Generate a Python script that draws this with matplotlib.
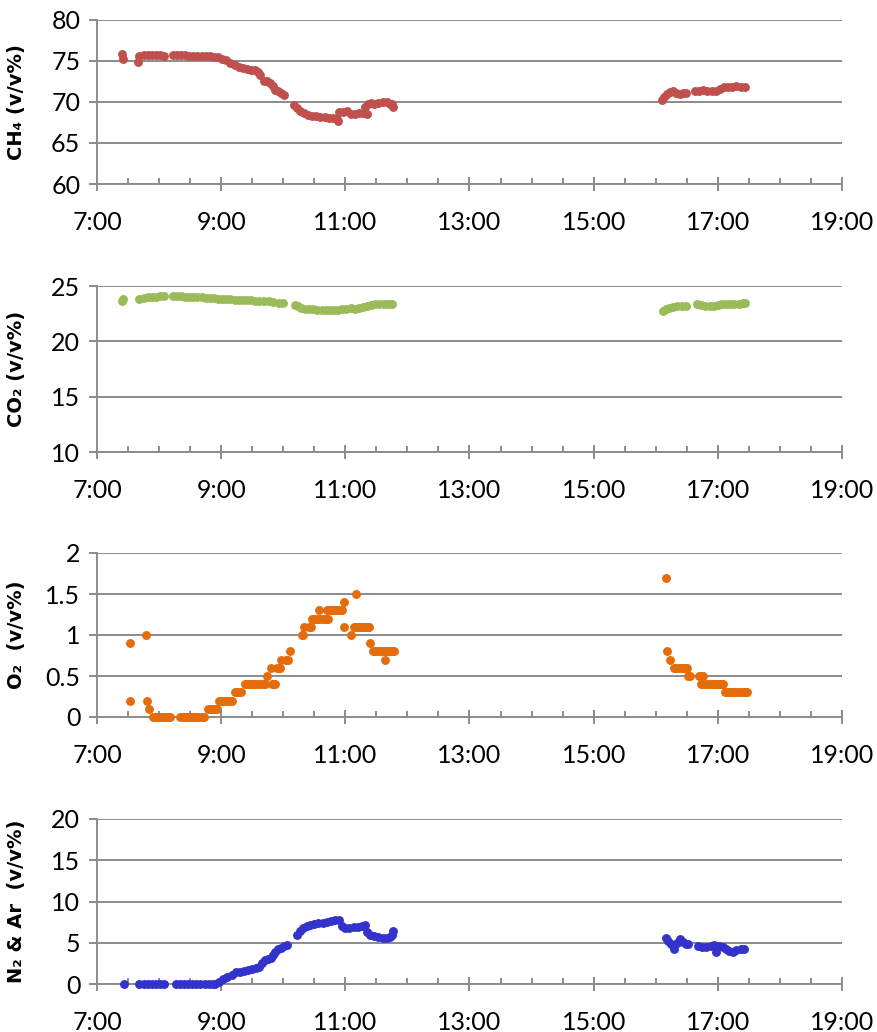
import matplotlib
matplotlib.use("Agg")
import matplotlib.pyplot as plt
from matplotlib.ticker import MultipleLocator
import numpy as np

plt.rcParams['font.family'] = ['Lato', 'DejaVu Sans']

# ---- data: time in minutes after 7:00, values in v/v% ----
ch4_t = [24, 25, 40, 41, 45, 49, 53, 57, 61, 65,
         73, 77, 81, 85, 89, 93, 97, 101, 105, 109, 113, 117, 121, 125, 129, 133, 137, 141,
         145, 149, 153, 156, 158,
         161, 164, 167, 170, 172, 175, 178, 181,
         190, 193, 196, 200, 204, 208, 212, 216, 220, 224, 228, 232, 233,
         234, 238, 242, 245, 249, 253, 257, 261,
         259, 262, 265, 268, 272, 276, 280, 283, 285, 286,
         546, 548, 551, 554, 557, 560, 563, 566, 569,
         578, 582, 586, 590, 594, 598, 602, 606, 610, 614, 618, 622, 626]
ch4_v = [75.8, 75.3, 74.9, 75.6, 75.7, 75.7, 75.7, 75.7, 75.7, 75.65,
         75.7, 75.7, 75.7, 75.7, 75.65, 75.65, 75.6, 75.6, 75.6, 75.55, 75.5, 75.5, 75.3, 75.1, 74.8, 74.55, 74.3, 74.1,
         74.0, 73.95, 73.85, 73.6, 73.3,
         72.6, 72.5, 72.3, 72.0, 71.5, 71.3, 71.1, 70.9,
         69.6, 69.3, 68.9, 68.6, 68.4, 68.3, 68.25, 68.2, 68.2, 68.1, 68.0, 67.9, 67.7,
         68.8, 68.8, 68.9, 68.5, 68.5, 68.6, 68.6, 68.5,
         69.4, 69.7, 69.9, 69.8, 69.9, 70.0, 70.0, 69.8, 69.7, 69.4,
         70.2, 70.6, 71.0, 71.2, 71.3, 71.1, 71.0, 71.1, 71.1,
         71.3, 71.4, 71.5, 71.4, 71.4, 71.4, 71.6, 71.8, 71.8, 71.85, 71.9, 71.85, 71.85]

co2_t = [24, 25, 41, 45, 49, 53, 57, 61, 65,
         73, 77, 81, 85, 89, 93, 97, 101, 105, 109, 113, 117, 121, 125, 129, 133, 137, 141,
         145, 149, 153, 157, 161, 166, 170, 176, 180,
         191, 194, 197, 201, 205, 209, 213, 217, 221, 225, 229, 233, 237, 241, 245, 249,
         253, 257, 261, 265, 269, 273, 277, 281, 285,
         547, 550, 553, 557, 561, 565, 569,
         580, 584, 588, 592, 596, 600, 604, 608, 612, 616, 620, 624, 626]
co2_v = [23.6, 23.8, 23.85, 23.95, 24.0, 24.05, 24.05, 24.1, 24.1,
         24.1, 24.1, 24.1, 24.05, 24.05, 24.0, 24.0, 24.0, 23.95, 23.95, 23.9, 23.85, 23.85, 23.8, 23.8, 23.75, 23.75, 23.7,
         23.7, 23.7, 23.65, 23.65, 23.6, 23.6, 23.55, 23.5, 23.5,
         23.3, 23.15, 23.0, 22.95, 22.9, 22.9, 22.85, 22.85, 22.85, 22.85, 22.8, 22.85, 22.9, 22.95, 23.0, 22.95,
         23.0, 23.1, 23.2, 23.3, 23.35, 23.4, 23.4, 23.4, 23.4,
         22.75, 22.9, 23.0, 23.1, 23.15, 23.2, 23.2,
         23.35, 23.3, 23.2, 23.15, 23.15, 23.25, 23.35, 23.35, 23.35, 23.4, 23.4, 23.45, 23.45]

o2_t = [32, 32, 47, 48, 50,
        54, 56, 58, 60, 62, 64, 66, 68, 70, 71,
        80, 82, 84, 86, 88, 90, 92, 94, 96, 98, 100, 102, 103,
        107, 109, 111, 113, 115, 116,
        118, 120, 122, 124, 126, 128, 130,
        133, 135, 137, 139,
        143, 145, 147, 149, 151, 153, 155, 157, 159, 161, 162,
        164, 168, 169, 171, 172, 174, 176, 177, 178, 183, 185, 187,
        198, 199, 200, 205, 207,
        208, 210, 212, 214, 216, 218, 220, 222, 223, 215,
        222, 224, 226, 228, 230, 232, 234, 236, 237, 239, 239, 245, 250,
        248, 250, 252, 254, 256, 258, 260, 262, 263, 264,
        267, 269, 271, 273, 275, 277, 279, 281, 283, 285, 287, 278,
        550, 551, 554,
        558, 560, 562, 564, 566, 568, 570, 571, 573,
        582, 584, 586,
        584, 586, 588, 590, 592, 594, 596, 598, 600, 602, 604, 605,
        607, 609, 611, 613, 615, 617, 619, 621, 623, 625, 627, 628]
o2_v = [0.9, 0.2, 1.0, 0.2, 0.1,
        0, 0, 0, 0, 0, 0, 0, 0, 0, 0,
        0, 0, 0, 0, 0, 0, 0, 0, 0, 0, 0, 0, 0,
        0.1, 0.1, 0.1, 0.1, 0.1, 0.1,
        0.2, 0.2, 0.2, 0.2, 0.2, 0.2, 0.2,
        0.3, 0.3, 0.3, 0.3,
        0.4, 0.4, 0.4, 0.4, 0.4, 0.4, 0.4, 0.4, 0.4, 0.4, 0.4,
        0.5, 0.6, 0.4, 0.4, 0.4, 0.6, 0.6, 0.6, 0.7, 0.7, 0.7, 0.8,
        1.0, 1.0, 1.1, 1.1, 1.1,
        1.2, 1.2, 1.2, 1.2, 1.2, 1.2, 1.2, 1.2, 1.2, 1.3,
        1.3, 1.3, 1.3, 1.3, 1.3, 1.3, 1.3, 1.3, 1.3, 1.4, 1.1, 1.0, 1.5,
        1.1, 1.1, 1.1, 1.1, 1.1, 1.1, 1.1, 1.1, 1.1, 0.9,
        0.8, 0.8, 0.8, 0.8, 0.8, 0.8, 0.8, 0.8, 0.8, 0.8, 0.8, 0.7,
        1.7, 0.8, 0.7,
        0.6, 0.6, 0.6, 0.6, 0.6, 0.6, 0.6, 0.5, 0.5,
        0.5, 0.5, 0.5,
        0.4, 0.4, 0.4, 0.4, 0.4, 0.4, 0.4, 0.4, 0.4, 0.4, 0.4, 0.4,
        0.3, 0.3, 0.3, 0.3, 0.3, 0.3, 0.3, 0.3, 0.3, 0.3, 0.3, 0.3]

n2_t = [26, 41, 45, 49, 53, 57, 61, 65,
        76, 80, 84, 88, 92, 96, 100, 104, 108, 112, 114,
        118, 122, 126, 130, 134, 138, 142, 146, 150, 154, 157, 159, 162, 165, 168, 170, 172, 175, 178, 181, 184,
        193, 196, 199, 203, 206, 210, 214, 218, 222, 226, 230, 234,
        237, 240, 244, 248, 252, 256, 259, 261, 264, 268, 272, 276, 280, 283, 285, 286,
        550, 552, 555, 558, 561, 563, 566, 569, 571,
        581, 585, 589, 593, 596, 598, 601, 605, 608, 611, 615, 618, 622, 625]
n2_v = [0.05, 0.05, 0.05, 0.05, 0.05, 0.05, 0.05, 0.05,
        0.05, 0.05, 0.05, 0.05, 0.05, 0.05, 0.05, 0.05, 0.05, 0.05, 0.05,
        0.3, 0.6, 0.8, 1.1, 1.4, 1.5, 1.6, 1.7, 1.8, 1.9, 2.1, 2.5, 2.9, 3.0, 3.2, 3.5, 3.9, 4.2, 4.4, 4.6, 4.7,
        6.0, 6.4, 6.8, 7.0, 7.2, 7.3, 7.4, 7.4, 7.5, 7.6, 7.7, 7.8,
        7.0, 6.8, 6.8, 6.9, 6.9, 7.0, 7.2, 6.3, 5.9, 5.8, 5.7, 5.6, 5.6, 5.7, 6.0, 6.4,
        5.6, 5.2, 4.9, 4.3, 5.0, 5.4, 5.1, 4.9, 4.9,
        4.6, 4.5, 4.5, 4.6, 4.7, 3.9, 4.6, 4.5, 4.2, 4.0, 3.9, 4.1, 4.2, 4.2]

x_ticks = [7, 9, 11, 13, 15, 17, 19]
x_labels = ["7:00", "9:00", "11:00", "13:00", "15:00", "17:00", "19:00"]

panels = [
    (ch4_t, ch4_v, "#C0504D", "CH\u2084 (v/v%)", (60, 80), [60, 65, 70, 75, 80], ["60", "65", "70", "75", "80"]),
    (co2_t, co2_v, "#9BBB59", "CO\u2082 (v/v%)", (10, 25), [10, 15, 20, 25], ["10", "15", "20", "25"]),
    (o2_t, o2_v, "#E46C0A", "O\u2082  (v/v%)", (0, 2), [0, 0.5, 1, 1.5, 2], ["0", "0.5", "1", "1.5", "2"]),
    (n2_t, n2_v, "#3333CC", "N\u2082 & Ar  (v/v%)", (0, 20), [0, 5, 10, 15, 20], ["0", "5", "10", "15", "20"]),
]

W, H = 877, 1032
fig = plt.figure(figsize=(W / 100, H / 100), dpi=100)
tops = [20, 286, 553, 819]
bottoms = [184, 452, 717, 984]
left, right = 97, 842
grid_col = "#8C8C8C"

for (t, v, col, lab, ylim, yt, ytl), top, bot in zip(panels, tops, bottoms):
    ax = fig.add_axes([left / W, 1 - bot / H, (right - left) / W, (bot - top) / H])
    hours = 7 + np.array(t) / 60.0
    ax.plot(hours, v, linestyle="none", marker="o", ms=6.4, color=col, mec="none", clip_on=False, zorder=3)
    ax.set_xlim(7, 19)
    ax.set_ylim(*ylim)
    ax.set_xticks(x_ticks)
    ax.set_xticklabels(x_labels)
    ax.xaxis.set_minor_locator(MultipleLocator(0.5))
    ax.set_yticks(yt)
    ax.set_yticklabels(ytl)
    ax.yaxis.grid(True, color=grid_col, linewidth=1.4, zorder=1)
    ax.set_axisbelow(True)
    for s in ["top", "right"]:
        ax.spines[s].set_visible(False)
    for s in ["left", "bottom"]:
        ax.spines[s].set_color(grid_col)
        ax.spines[s].set_linewidth(1.4)
    ax.tick_params(axis="x", which="major", direction="inout", length=10, width=1.4, color=grid_col,
                   labelsize=18, pad=14.5, labelcolor="black")
    ax.tick_params(axis="x", which="minor", direction="in", length=4, width=1.4, color=grid_col)
    ax.tick_params(axis="y", which="major", direction="out", length=6, width=1.4, color=grid_col,
                   labelsize=18, pad=6, labelcolor="black")
    ax.set_ylabel(lab, fontsize=14, fontweight="bold", family=["DejaVu Sans"])
    ax.yaxis.set_label_coords(-0.095, 0.5)

fig.savefig("out.png", dpi=100)
